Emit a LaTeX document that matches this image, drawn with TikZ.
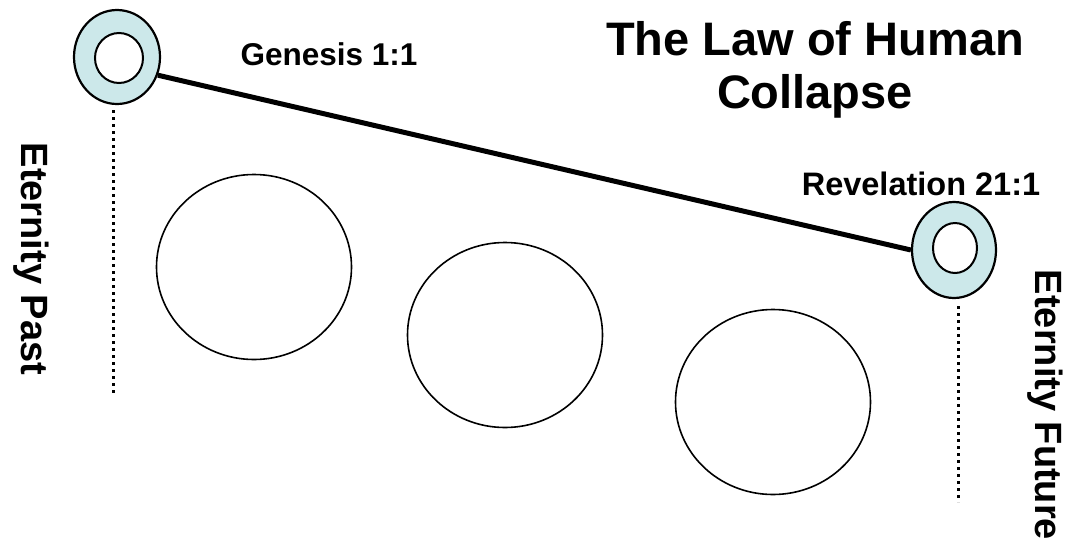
\documentclass[tikz,border=0pt]{standalone}
\usepackage{fontspec}
\setmainfont{Liberation Sans}
\usetikzlibrary{shapes.geometric}
\definecolor{ringfill}{RGB}{204,232,234}
\begin{document}
\begin{tikzpicture}[x=1pt,y=-1pt,
  ring/.style={ellipse,draw=black,line width=2.2pt,fill=ringfill,inner sep=0pt},
  hole/.style={ellipse,draw=black,line width=2pt,fill=white,inner sep=0pt},
  bigcirc/.style={ellipse,draw=black,line width=1.6pt,inner sep=0pt,minimum width=195pt,minimum height=185pt},
  dotline/.style={line width=3pt,dash pattern=on 3pt off 4pt},
  lbl/.style={font=\bfseries,inner sep=0pt,anchor=base}]
\useasboundingbox (0,0) rectangle (1066,539);
% big circles
\node[bigcirc] (c1) at (254,267) {};
\node[bigcirc] (c2) at (505,335) {};
\node[bigcirc] (c3) at (773,402) {};
% rings
\node[ring,minimum width=86pt,minimum height=94pt] (g) at (117,57) {};
\node[hole,minimum width=48pt,minimum height=50pt] (gh) at (119,58) {};
\node[ring,minimum width=84pt,minimum height=96pt] (r) at (954,250) {};
\node[hole,minimum width=44pt,minimum height=50pt] (rh) at (955,248) {};
% connector
\draw[line width=5pt] (g.-24) -- (r.west);
% dotted time lines
\coordinate (gd1) at (113,110);
\coordinate (gd2) at (113,396);
\coordinate (rd1) at (958,306);
\coordinate (rd2) at (958,502);
\draw[dotline] (gd1) -- (gd2);
\draw[dotline] (rd1) -- (rd2);
% labels
\node[lbl,font=\fontsize{31.5}{36}\selectfont\bfseries] (gen) at (329,65) {Genesis 1:1};
\node[lbl,font=\fontsize{32.5}{36}\selectfont\bfseries] (rev) at (921,195) {Revelation 21:1};
\node[font=\fontsize{47}{53}\selectfont\bfseries,align=center,inner sep=0pt,anchor=base] (title) at (815,108) {The Law of Human\\Collapse};
\node[font=\fontsize{38}{40}\selectfont\bfseries,inner sep=0pt,rotate=-90] (ep) at (31,259) {Eternity Past};
\node[font=\fontsize{38}{40}\selectfont\bfseries,inner sep=0pt,rotate=-90] (ef) at (1045,405) {Eternity Future};
\end{tikzpicture}
\end{document}
